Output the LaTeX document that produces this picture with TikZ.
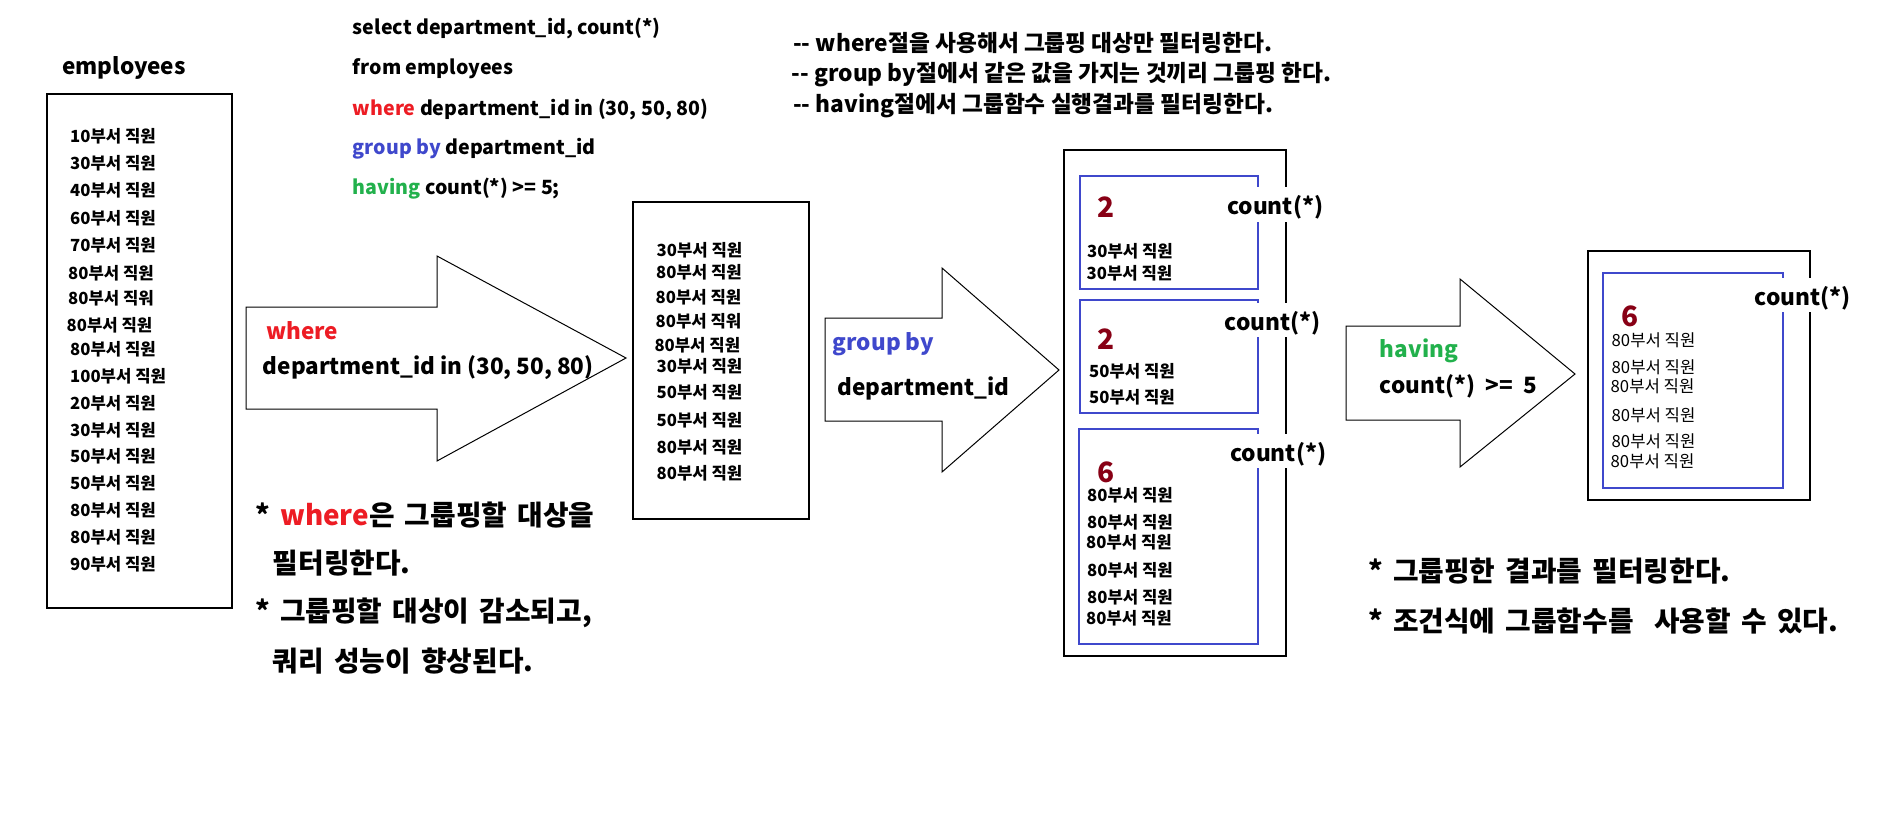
\documentclass[tikz,border=0pt]{standalone}
\usepackage{fontspec}
\setmainfont{Noto Sans CJK KR}
\definecolor{pred}{RGB}{237,28,36}
\definecolor{pblue}{RGB}{63,72,204}
\definecolor{pgreen}{RGB}{34,177,76}
\definecolor{pdark}{RGB}{136,0,21}
\newcommand\widesp{\spaceskip=0.37em\relax}
\begin{document}
\begin{tikzpicture}[x=1pt,y=-1pt,
  txt/.style={anchor=west,inner sep=0pt,text depth=0pt},
  item/.style={txt,text height=14pt,font=\fontsize{16.7}{19}\selectfont\bfseries},
  ritem/.style={txt,text height=14pt,font=\fontsize{16.7}{19}\selectfont},
  title/.style={txt,text height=18.9pt,font=\fontsize{22.5}{26}\selectfont\bfseries},
  sql/.style={txt,text height=16.5pt,font=\fontsize{19.6}{23}\selectfont\bfseries},
  cmt/.style={txt,text height=19.1pt,font=\fontsize{22.7}{26}\selectfont\bfseries},
  lbl/.style={txt,text height=19.5pt,font=\fontsize{22.5}{26}\selectfont\bfseries},
  note/.style={txt,text height=23.4pt,font={\fontsize{27.8}{32}\selectfont\bfseries\widesp}},
  num/.style={txt,text height=23.5pt,text=pdark,font=\fontsize{28}{30}\selectfont\bfseries},
  cnt/.style={anchor=west,inner xsep=1pt,inner ysep=7pt,fill=white,text height=20.5pt,text depth=0pt,font=\fontsize{22.7}{26}\selectfont\bfseries},
  box/.style={draw=black,line width=1.2pt},
  gbox/.style={draw=pblue,line width=1.2pt},
  bigarrow/.style={draw=black,line width=1pt,fill=white}
]
\useasboundingbox (0,0) rectangle (1887,825);
\fill[white] (0,0) rectangle (1887,825);

% ---------- employees ----------
\node[title] (emptitle) at (62,65) {employees};
\draw[box] (47,94) rectangle (232,608);
\node[item] (e1)  at (70,135)   {10부서 직원};
\node[item] (e2)  at (70,162.7) {30부서 직원};
\node[item] (e3)  at (70,189.5) {40부서 직원};
\node[item] (e4)  at (70,217)   {60부서 직원};
\node[item] (e5)  at (70,244)   {70부서 직원};
\node[item] (e6)  at (68,272)   {80부서 직원};
\node[item] (e7)  at (68,297)   {80부서 직워};
\node[item] (e8)  at (66.5,324.6) {80부서 직원};
\node[item] (e9)  at (70,348)   {80부서 직원};
\node[item] (e10) at (70,375)   {100부서 직원};
\node[item] (e11) at (70,402)   {20부서 직원};
\node[item] (e12) at (70,429)   {30부서 직원};
\node[item] (e13) at (70,455.5) {50부서 직원};
\node[item] (e14) at (70,482)   {50부서 직원};
\node[item] (e15) at (70,509)   {80부서 직원};
\node[item] (e16) at (70,536)   {80부서 직원};
\node[item] (e17) at (70,563)   {90부서 직원};

% ---------- SQL ----------
\node[sql] (s1) at (352.7,26.7)  {select department\_id, count(*)};
\node[sql] (s2) at (352.7,66.7)  {from employees};
\node[sql] (s3) at (352.7,107.3) {\textcolor{pred}{where} department\_id in (30, 50, 80)};
\node[sql] (s4) at (352.7,146.7) {\textcolor{pblue}{group by} department\_id};
\node[sql] (s5) at (352.7,186.7) {\textcolor{pgreen}{having} count(*) >= 5;};

\node[cmt] (c1) at (793,41.7)  {-{}- where절을 사용해서 그룹핑 대상만 필터링한다.};
\node[cmt] (c2) at (791.5,71.7){-{}- group by절에서 같은 값을 가지는 것끼리 그룹핑 한다.};
\node[cmt] (c3) at (793,103.3) {-{}- having절에서 그룹함수 실행결과를 필터링한다.};

% ---------- where arrow ----------
\draw[bigarrow] (246,307) -- (437,307) -- (437,256) -- (626,358) -- (437,461) -- (437,409) -- (246,409) -- cycle;
\node[lbl,text=pred] (wlab) at (266,330) {where};
\node[lbl] (wcond) at (262.7,365) {department\_id in (30, 50, 80)};

\node[note] (n1) at (255,513.3) {* \textcolor{pred}{where}은 그룹핑할 대상을};
\node[note] (n2) at (272.7,561.7) {필터링한다.};
\node[note] (n3) at (255,610) {* 그룹핑할 대상이 감소되고,};
\node[note] (n4) at (272.7,660) {쿼리 성능이 향상된다.};

% ---------- filtered ----------
\draw[box] (633,202) rectangle (809,519);
\node[item] (f1)  at (656.5,249.3) {30부서 직원};
\node[item] (f2)  at (656,271.7)   {80부서 직원};
\node[item] (f3)  at (655.5,296)   {80부서 직원};
\node[item] (f4)  at (655.5,320)   {80부서 직워};
\node[item] (f5)  at (654.3,344)   {80부서 직원};
\node[item] (f6)  at (656.5,365)   {30부서 직원};
\node[item] (f7)  at (656.5,391.7) {50부서 직원};
\node[item] (f8)  at (656.5,419)   {50부서 직원};
\node[item] (f9)  at (656.5,446)   {80부서 직원};
\node[item] (f10) at (656.5,472.7) {80부서 직원};

% ---------- group by arrow ----------
\draw[bigarrow] (825,318) -- (942,318) -- (942,268) -- (1059,370) -- (942,472) -- (942,421) -- (825,421) -- cycle;
\node[lbl,text=pblue] (glab) at (832.7,340.7) {group by};
\node[lbl] (gcond) at (837.3,386) {department\_id};

% ---------- groups ----------
\draw[box] (1064,150) rectangle (1286,656);
\draw[gbox] (1080,176) rectangle (1258,289);
\draw[gbox] (1080,300) rectangle (1258,413);
\draw[gbox] (1079,429) rectangle (1258,644);

\node[num] (g1n) at (1097,205.4) {2};
\node[item] (g1a) at (1087,250.2) {30부서 직원};
\node[item] (g1b) at (1086.5,272.6) {30부서 직원};
\node[cnt] (g1c) at (1226,204.4) {count(*)};

\node[num] (g2n) at (1097,338) {2};
\node[item] (g2a) at (1089,370) {50부서 직원};
\node[item] (g2b) at (1089,396.5) {50부서 직원};
\node[cnt] (g2c) at (1223.5,319.8) {count(*)};

\node[num] (g3n) at (1097,470.6) {6};
\node[item] (g3a) at (1087,494.7) {80부서 직원};
\node[item] (g3b) at (1087,521.5) {80부서 직원};
\node[item] (g3c) at (1086,541.5) {80부서 직원};
\node[item] (g3d) at (1087,569.8) {80부서 직원};
\node[item] (g3e) at (1087,596.3) {80부서 직원};
\node[item] (g3f) at (1086,617)   {80부서 직원};
\node[cnt] (g3k) at (1229,451) {count(*)};

% ---------- having arrow ----------
\draw[bigarrow] (1346,326) -- (1460,326) -- (1460,279) -- (1575,374) -- (1460,467) -- (1460,420) -- (1346,420) -- cycle;
\node[lbl,text=pgreen] (hlab) at (1379.7,347.3) {having};
\node[lbl] (hcond) at (1379.7,383.3) {count(*)\ \ >=\ \ 5};

% ---------- result ----------
\draw[box] (1588,251) rectangle (1810,500);
\draw[gbox] (1603,273) rectangle (1783,488);
\node[num] (rn) at (1621,315) {6};
\node[ritem] (r1) at (1611.5,339)   {80부서 직원};
\node[ritem] (r2) at (1611.5,366)   {80부서 직원};
\node[ritem] (r3) at (1610.5,385.7) {80부서 직원};
\node[ritem] (r4) at (1611.5,414)   {80부서 직원};
\node[ritem] (r5) at (1611.5,440.7) {80부서 직원};
\node[ritem] (r6) at (1610.5,460.7) {80부서 직원};
\node[cnt] (rc) at (1753.5,295) {count(*)};

\node[note] (m1) at (1368,570)   {* 그룹핑한 결과를 필터링한다.};
\node[note] (m2) at (1368,619.3) {* 조건식에 그룹함수를\ \ 사용할 수 있다.};
\end{tikzpicture}
\end{document}
